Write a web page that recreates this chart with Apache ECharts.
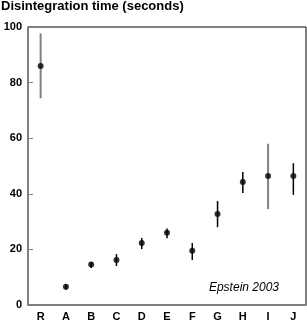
<!DOCTYPE html>
<html>
<head>
<meta charset="utf-8">
<script src="https://cdn.jsdelivr.net/npm/echarts@6/dist/echarts.min.js"></script>
<style>
  html, body { margin: 0; padding: 0; background: #fff; }
  #main { width: 307px; height: 323px; }
</style>
</head>
<body>
<div id="main"></div>
<script>
var categories = ['R', 'A', 'B', 'C', 'D', 'E', 'F', 'G', 'H', 'I', 'J'];
var means = [86, 6.6, 14.6, 16.2, 22.3, 26, 19.5, 32.7, 44.2, 46.4, 46.4];
var lows  = [74.4, 5.5, 13.3, 14, 20.1, 24, 16.2, 28, 40.3, 34.5, 39.6];
var highs = [97.7, 7.5, 15.5, 18.3, 24.1, 27.5, 22.3, 37.4, 47.8, 58, 51];
// R and I are drawn with grey bars in the source
var barColors = ['#808080', '#000', '#000', '#000', '#000', '#000', '#000', '#000', '#000', '#808080', '#000'];

var font = '"Liberation Sans", Arial, sans-serif';
var myChart = echarts.init(document.getElementById('main'));

var errData = categories.map(function (c, i) { return [i, lows[i], highs[i]]; });

var option = {
    animation: false,
    title: {
        text: 'Disintegration time (seconds)',
        left: 1, top: 0, padding: 0,
        textStyle: { fontFamily: font, fontSize: 13, fontWeight: 'bold', color: '#000' }
    },
    // grid border gives the black top and right edges
    grid: { left: 28, right: 1, top: 27, bottom: 18, show: true, borderColor: '#000', borderWidth: 1 },
    xAxis: {
        type: 'category',
        data: categories,
        z: 5,
        axisLine: { lineStyle: { color: '#808080', width: 2 } },
        axisTick: { show: false },
        axisLabel: { fontFamily: font, fontSize: 11, fontWeight: 'bold', color: '#000', margin: 6 }
    },
    yAxis: {
        type: 'value',
        min: 0, max: 100, interval: 20,
        z: 5,
        splitLine: { show: false },
        axisLine: { show: true, lineStyle: { color: '#808080', width: 2 } },
        axisTick: { show: true, inside: true, length: 5, lineStyle: { color: '#808080', width: 1 } },
        axisLabel: { fontFamily: font, fontSize: 11, fontWeight: 'bold', color: '#000', margin: 6 }
    },
    graphic: [{
        type: 'text',
        right: 28, top: 282,
        style: { text: 'Epstein 2003', fontFamily: font, fontSize: 12, fontStyle: 'italic', fill: '#000' }
    }],
    series: [{
        type: 'custom',
        data: errData,
        renderItem: function (params, api) {
            var i = api.value(0);
            var lo = api.coord([i, api.value(1)]);
            var hi = api.coord([i, api.value(2)]);
            var col = barColors[params.dataIndex];
            return {
                type: 'line',
                shape: { x1: lo[0], y1: lo[1], x2: hi[0], y2: hi[1] },
                style: { stroke: col, lineWidth: col === '#000' ? 1.5 : 2 }
            };
        },
        z: 2
    }, {
        type: 'scatter',
        data: means,
        symbol: 'circle',
        symbolSize: 6,
        itemStyle: { color: '#000' },
        z: 3
    }]
};
myChart.setOption(option);
</script>
</body>
</html>
